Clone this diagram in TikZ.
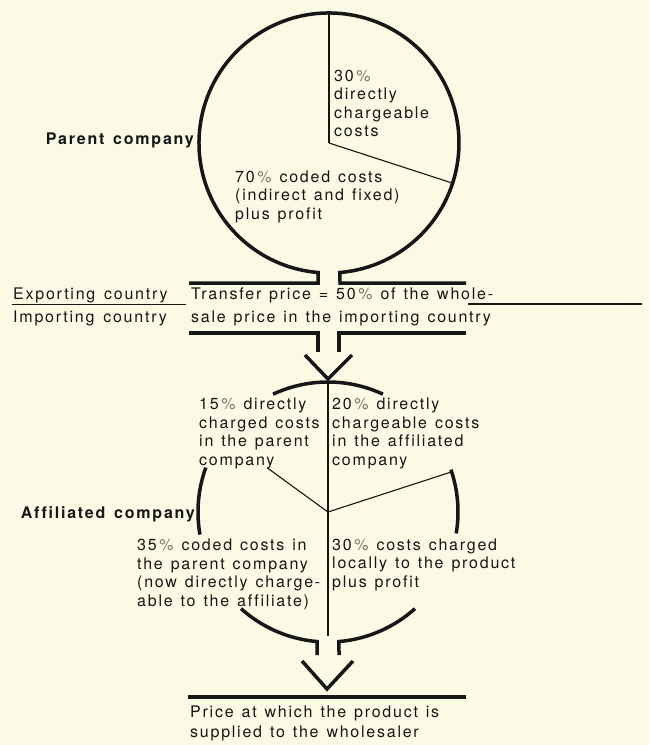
\documentclass[tikz,border=0pt]{standalone}
\usepackage{fontspec}
\setmainfont{TeX Gyre Heros}[LetterSpace=11,Ligatures=NoCommon]
\definecolor{bg}{RGB}{251,250,228}
\definecolor{ink}{RGB}{22,22,22}
\definecolor{pctgray}{RGB}{125,125,112}
\newcommand\pc{\,{\color{pctgray}\%}}
\newcommand\ws{\hspace{2.6pt}\space}
\begin{document}
\begin{tikzpicture}[x=1pt,y=-1pt,
  heavy/.style={line width=3.5pt,draw=ink,line join=miter,line cap=butt},
  fine/.style={line width=1.1pt,draw=ink},
  txt/.style={inner sep=0pt,anchor=base west,align=left,text width=340pt,
    font=\fontsize{16}{18.5}\selectfont,text=ink},
  lbl/.style={inner sep=0pt,anchor=base west,font=\fontsize{16}{18.5}\selectfont,text=ink},
  bold/.style={inner sep=0pt,anchor=base east,font=\fontsize{16}{18.5}\selectfont\bfseries,text=ink}
]
\fill[bg] (0,0) rectangle (649,745);
\useasboundingbox (0,0) rectangle (649,745);

% ---------- parent company circle ----------
\coordinate (c1) at (329,143);
\coordinate (barAL) at (189,283);
\coordinate (barAR) at (466,283);
\draw[heavy] (barAL) -- (318,283) -- (318,272.5)
  arc[start angle=94.85,end angle=445.15,radius=130] -- (340,283) -- (barAR);
\draw[fine] (c1) -- +(270:130);
\draw[fine] (c1) -- +(18:130);

% ---------- transfer bars and arrow ----------
\coordinate (barBL) at (189,333);
\coordinate (barBR) at (466,333);
\draw[heavy] (barBL) -- (318,333) -- (318,352);
\draw[heavy] (barBR) -- (339,333) -- (339,352);
\coordinate (v1tip) at (328,379);
\draw[heavy] (305,355) -- (v1tip) -- (352,355);

% ---------- separator ----------
\coordinate (sepL1) at (12,304.5);
\coordinate (sepL2) at (186,304.5);
\coordinate (sepR1) at (468,304);
\coordinate (sepR2) at (642,304);
\draw[fine] (sepL1) -- (sepL2);
\draw[fine] (sepR1) -- (sepR2);

% ---------- affiliated company circle ----------
\coordinate (c2) at (328,512);
\draw[heavy] (c2) ++(245:130) arc[start angle=245,end angle=295,radius=130];
\draw[heavy] (c2) ++(170:130) arc[start angle=170,end angle=200,radius=130];
\draw[heavy] (c2) ++(-19:130) arc[start angle=-19,end angle=9.5,radius=130];
\draw[heavy] (c2) ++(132:130) arc[start angle=132,end angle=94.85,radius=130] -- (317,655);
\draw[heavy] (c2) ++(48:130) arc[start angle=48,end angle=85.15,radius=130] -- (339,655);
\coordinate (vtop) at (328,382);
\coordinate (vbot) at (328,636);
\draw[fine] (vtop) -- (vbot);
\draw[fine] (c2) -- +(216:75);
\draw[fine] (c2) -- +(342:130);

% ---------- final arrow and bar ----------
\coordinate (v2tip) at (327,689);
\draw[heavy] (302,661) -- (v2tip) -- (353,661);
\coordinate (barCL) at (188,697);
\coordinate (barCR) at (466,697);
\draw[heavy] (barCL) -- (barCR);

% ---------- texts ----------
\node[bold] (parent) at (194,144) {Parent\ws company};
\node[bold] (affil) at (195,518) {Affiliated\ws company};
\node[txt] (t30) at (334,81) {30\pc\\directly\\chargeable\\costs};
\node[txt] (t70) at (235,182) {70\pc\ws coded\ws costs\\(indirect\ws and\ws fixed)\\plus\ws profit};
\node[lbl] (exp) at (13,299) {Exporting\ws country};
\node[lbl] (imp) at (13,322) {Importing\ws country};
\node[txt,font=\fontsize{16}{23}\selectfont] (transfer) at (191,299)
  {Transfer\ws price\ws =\ws 50\pc\ws of\ws the\ws whole-\\sale\ws price\ws in\ws the\ws importing\ws country};
\node[txt] (t15) at (199,409.5) {15\pc\ws directly\\charged\ws costs\\in\ws the\ws parent\\company};
\node[txt] (t20) at (332,409.5) {20\pc\ws directly\\chargeable\ws costs\\in\ws the\ws affiliated\\company};
\node[txt] (t35) at (137,550.5) {35\pc\ws coded\ws costs\ws in\\the\ws parent\ws company\\(now\ws directly\ws charge-\\able\ws to\ws the\ws affiliate)};
\node[txt] (t30b) at (332,550) {30\pc\ws costs\ws charged\\locally\ws to\ws the\ws product\\plus\ws profit};
\node[txt,font=\fontsize{16}{20}\selectfont] (price) at (190,717)
  {Price\ws at\ws which\ws the\ws product\ws is\\supplied\ws to\ws the\ws wholesaler};
\end{tikzpicture}
\end{document}
